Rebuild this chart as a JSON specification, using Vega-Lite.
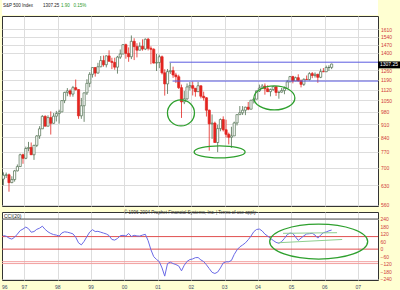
{
  "$schema": "https://vega.github.io/schema/vega-lite/v6.json",
  "background": "#ffffd2",
  "padding": {"left": 0, "top": 0, "right": 0, "bottom": 1},
  "spacing": 0,
  "config": {
    "view": {"fill": "white", "stroke": "#333", "strokeWidth": 1},
    "font": "Liberation Sans",
    "axis": {"gridColor": "#dddddd", "gridWidth": 1, "ticks": false, "domain": false, "labelFontSize": 5, "labelFont": "Liberation Sans", "labelOverlap": false}
  },
  "datasets": {
    "px": [
      {"m":"1996-05","o":654,"h":681,"l":630,"c":669},
      {"m":"1996-06","o":669,"h":680,"l":658,"c":671},
      {"m":"1996-07","o":671,"h":676,"l":606,"c":640},
      {"m":"1996-08","o":640,"h":665,"l":638,"c":652},
      {"m":"1996-09","o":652,"h":691,"l":644,"c":687},
      {"m":"1996-10","o":687,"h":714,"l":685,"c":705},
      {"m":"1996-11","o":705,"h":762,"l":704,"c":757},
      {"m":"1996-12","o":757,"h":762,"l":717,"c":741},
      {"m":"1997-01","o":741,"h":795,"l":737,"c":786},
      {"m":"1997-02","o":786,"h":818,"l":773,"c":791},
      {"m":"1997-03","o":791,"h":815,"l":756,"c":757},
      {"m":"1997-04","o":757,"h":804,"l":734,"c":801},
      {"m":"1997-05","o":801,"h":852,"l":793,"c":848},
      {"m":"1997-06","o":848,"h":899,"l":833,"c":885},
      {"m":"1997-07","o":885,"h":961,"l":885,"c":954},
      {"m":"1997-08","o":954,"h":960,"l":899,"c":899},
      {"m":"1997-09","o":899,"h":960,"l":899,"c":947},
      {"m":"1997-10","o":947,"h":983,"l":855,"c":915},
      {"m":"1997-11","o":915,"h":973,"l":913,"c":955},
      {"m":"1997-12","o":955,"h":986,"l":925,"c":970},
      {"m":"1998-01","o":970,"h":993,"l":913,"c":980},
      {"m":"1998-02","o":980,"h":1051,"l":980,"c":1049},
      {"m":"1998-03","o":1049,"h":1106,"l":1033,"c":1102},
      {"m":"1998-04","o":1102,"h":1131,"l":1077,"c":1112},
      {"m":"1998-05","o":1112,"h":1123,"l":1074,"c":1091},
      {"m":"1998-06","o":1091,"h":1146,"l":1074,"c":1134},
      {"m":"1998-07","o":1134,"h":1191,"l":1114,"c":1121},
      {"m":"1998-08","o":1121,"h":1122,"l":940,"c":957},
      {"m":"1998-09","o":957,"h":1066,"l":940,"c":1017},
      {"m":"1998-10","o":1017,"h":1101,"l":923,"c":1099},
      {"m":"1998-11","o":1099,"h":1193,"l":1085,"c":1164},
      {"m":"1998-12","o":1164,"h":1245,"l":1137,"c":1229},
      {"m":"1999-01","o":1229,"h":1280,"l":1205,"c":1280},
      {"m":"1999-02","o":1280,"h":1284,"l":1212,"c":1238},
      {"m":"1999-03","o":1238,"h":1317,"l":1235,"c":1286},
      {"m":"1999-04","o":1286,"h":1372,"l":1283,"c":1335},
      {"m":"1999-05","o":1335,"h":1376,"l":1287,"c":1302},
      {"m":"1999-06","o":1302,"h":1377,"l":1281,"c":1373},
      {"m":"1999-07","o":1373,"h":1420,"l":1329,"c":1329},
      {"m":"1999-08","o":1329,"h":1358,"l":1268,"c":1320},
      {"m":"1999-09","o":1320,"h":1358,"l":1263,"c":1283},
      {"m":"1999-10","o":1283,"h":1373,"l":1234,"c":1363},
      {"m":"1999-11","o":1363,"h":1427,"l":1348,"c":1389},
      {"m":"1999-12","o":1389,"h":1473,"l":1387,"c":1469},
      {"m":"2000-01","o":1469,"h":1478,"l":1350,"c":1394},
      {"m":"2000-02","o":1394,"h":1445,"l":1325,"c":1366},
      {"m":"2000-03","o":1366,"h":1553,"l":1347,"c":1499},
      {"m":"2000-04","o":1499,"h":1527,"l":1339,"c":1452},
      {"m":"2000-05","o":1452,"h":1482,"l":1361,"c":1421},
      {"m":"2000-06","o":1421,"h":1489,"l":1421,"c":1455},
      {"m":"2000-07","o":1455,"h":1517,"l":1417,"c":1431},
      {"m":"2000-08","o":1431,"h":1525,"l":1422,"c":1518},
      {"m":"2000-09","o":1518,"h":1530,"l":1419,"c":1437},
      {"m":"2000-10","o":1437,"h":1455,"l":1306,"c":1429},
      {"m":"2000-11","o":1429,"h":1438,"l":1312,"c":1315},
      {"m":"2000-12","o":1315,"h":1389,"l":1254,"c":1320},
      {"m":"2001-01","o":1320,"h":1383,"l":1275,"c":1366},
      {"m":"2001-02","o":1366,"h":1376,"l":1228,"c":1240},
      {"m":"2001-03","o":1240,"h":1267,"l":1081,"c":1160},
      {"m":"2001-04","o":1160,"h":1269,"l":1092,"c":1249},
      {"m":"2001-05","o":1249,"h":1316,"l":1232,"c":1256},
      {"m":"2001-06","o":1256,"h":1287,"l":1203,"c":1224},
      {"m":"2001-07","o":1224,"h":1240,"l":1166,"c":1211},
      {"m":"2001-08","o":1211,"h":1226,"l":1125,"c":1134},
      {"m":"2001-09","o":1134,"h":1155,"l":945,"c":1041},
      {"m":"2001-10","o":1041,"h":1111,"l":1027,"c":1060},
      {"m":"2001-11","o":1060,"h":1163,"l":1054,"c":1139},
      {"m":"2001-12","o":1139,"h":1174,"l":1115,"c":1148},
      {"m":"2002-01","o":1148,"h":1177,"l":1082,"c":1130},
      {"m":"2002-02","o":1130,"h":1130,"l":1074,"c":1107},
      {"m":"2002-03","o":1107,"h":1174,"l":1107,"c":1147},
      {"m":"2002-04","o":1147,"h":1148,"l":1063,"c":1077},
      {"m":"2002-05","o":1077,"h":1107,"l":1049,"c":1067},
      {"m":"2002-06","o":1067,"h":1071,"l":953,"c":990},
      {"m":"2002-07","o":990,"h":994,"l":776,"c":912},
      {"m":"2002-08","o":912,"h":965,"l":833,"c":916},
      {"m":"2002-09","o":916,"h":924,"l":815,"c":815},
      {"m":"2002-10","o":815,"h":907,"l":769,"c":886},
      {"m":"2002-11","o":886,"h":942,"l":872,"c":936},
      {"m":"2002-12","o":936,"h":954,"l":871,"c":880},
      {"m":"2003-01","o":880,"h":935,"l":840,"c":856},
      {"m":"2003-02","o":856,"h":865,"l":806,"c":841},
      {"m":"2003-03","o":841,"h":896,"l":789,"c":848},
      {"m":"2003-04","o":848,"h":924,"l":848,"c":917},
      {"m":"2003-05","o":917,"h":965,"l":903,"c":964},
      {"m":"2003-06","o":964,"h":1015,"l":964,"c":975},
      {"m":"2003-07","o":975,"h":1015,"l":962,"c":990},
      {"m":"2003-08","o":990,"h":1011,"l":961,"c":1008},
      {"m":"2003-09","o":1008,"h":1040,"l":990,"c":996},
      {"m":"2003-10","o":996,"h":1054,"l":996,"c":1051},
      {"m":"2003-11","o":1051,"h":1064,"l":1031,"c":1058},
      {"m":"2003-12","o":1058,"h":1113,"l":1058,"c":1112},
      {"m":"2004-01","o":1112,"h":1155,"l":1105,"c":1131},
      {"m":"2004-02","o":1131,"h":1159,"l":1124,"c":1145},
      {"m":"2004-03","o":1145,"h":1163,"l":1087,"c":1126},
      {"m":"2004-04","o":1126,"h":1151,"l":1106,"c":1107},
      {"m":"2004-05","o":1107,"h":1128,"l":1076,"c":1121},
      {"m":"2004-06","o":1121,"h":1146,"l":1113,"c":1141},
      {"m":"2004-07","o":1141,"h":1141,"l":1079,"c":1102},
      {"m":"2004-08","o":1102,"h":1109,"l":1061,"c":1104},
      {"m":"2004-09","o":1104,"h":1132,"l":1101,"c":1115},
      {"m":"2004-10","o":1115,"h":1142,"l":1090,"c":1130},
      {"m":"2004-11","o":1130,"h":1188,"l":1128,"c":1174},
      {"m":"2004-12","o":1174,"h":1217,"l":1174,"c":1212},
      {"m":"2005-01","o":1212,"h":1218,"l":1164,"c":1181},
      {"m":"2005-02","o":1181,"h":1212,"l":1181,"c":1204},
      {"m":"2005-03","o":1204,"h":1229,"l":1177,"c":1181},
      {"m":"2005-04","o":1181,"h":1192,"l":1136,"c":1157},
      {"m":"2005-05","o":1157,"h":1200,"l":1146,"c":1192},
      {"m":"2005-06","o":1192,"h":1220,"l":1188,"c":1191},
      {"m":"2005-07","o":1191,"h":1245,"l":1184,"c":1234},
      {"m":"2005-08","o":1234,"h":1246,"l":1201,"c":1220},
      {"m":"2005-09","o":1220,"h":1243,"l":1205,"c":1229},
      {"m":"2005-10","o":1229,"h":1233,"l":1168,"c":1207},
      {"m":"2005-11","o":1207,"h":1271,"l":1201,"c":1249},
      {"m":"2005-12","o":1249,"h":1276,"l":1247,"c":1248},
      {"m":"2006-01","o":1248,"h":1295,"l":1246,"c":1280},
      {"m":"2006-02","o":1280,"h":1298,"l":1254,"c":1281},
      {"m":"2006-03","o":1281,"h":1310,"l":1268,"c":1307.25}
    ],
    "cci": [
      {"m":"1996-05","v":108},{"m":"1996-06","v":103},{"m":"1996-07","v":88},{"m":"1996-08","v":80},
      {"m":"1996-09","v":95},{"m":"1996-10","v":120},{"m":"1996-11","v":148},{"m":"1996-12","v":160},
      {"m":"1997-01","v":176},{"m":"1997-02","v":163},{"m":"1997-03","v":135},{"m":"1997-04","v":140},
      {"m":"1997-05","v":158},{"m":"1997-06","v":167},{"m":"1997-07","v":183},{"m":"1997-08","v":157},
      {"m":"1997-09","v":138},{"m":"1997-10","v":125},{"m":"1997-11","v":116},{"m":"1997-12","v":112},
      {"m":"1998-01","v":104},{"m":"1998-02","v":129},{"m":"1998-03","v":138},{"m":"1998-04","v":135},
      {"m":"1998-05","v":129},{"m":"1998-06","v":122},{"m":"1998-07","v":95},{"m":"1998-08","v":50},
      {"m":"1998-09","v":34},{"m":"1998-10","v":62},{"m":"1998-11","v":100},{"m":"1998-12","v":136},
      {"m":"1999-01","v":155},{"m":"1999-02","v":140},{"m":"1999-03","v":142},{"m":"1999-04","v":135},
      {"m":"1999-05","v":128},{"m":"1999-06","v":121},{"m":"1999-07","v":108},{"m":"1999-08","v":77},
      {"m":"1999-09","v":72},{"m":"1999-10","v":85},{"m":"1999-11","v":107},{"m":"1999-12","v":110},
      {"m":"2000-01","v":105},{"m":"2000-02","v":125},{"m":"2000-03","v":101},{"m":"2000-04","v":110},
      {"m":"2000-05","v":105},{"m":"2000-06","v":104},{"m":"2000-07","v":112},{"m":"2000-08","v":118},
      {"m":"2000-09","v":67},{"m":"2000-10","v":-5},{"m":"2000-11","v":-60},{"m":"2000-12","v":-82},
      {"m":"2001-01","v":-100},{"m":"2001-02","v":-150},{"m":"2001-03","v":-215},{"m":"2001-04","v":-115},
      {"m":"2001-05","v":-104},{"m":"2001-06","v":-115},{"m":"2001-07","v":-123},{"m":"2001-08","v":-134},
      {"m":"2001-09","v":-173},{"m":"2001-10","v":-128},{"m":"2001-11","v":-98},{"m":"2001-12","v":-83},
      {"m":"2002-01","v":-78},{"m":"2002-02","v":-68},{"m":"2002-03","v":-67},{"m":"2002-04","v":-86},
      {"m":"2002-05","v":-99},{"m":"2002-06","v":-125},{"m":"2002-07","v":-155},{"m":"2002-08","v":-185},
      {"m":"2002-09","v":-194},{"m":"2002-10","v":-183},{"m":"2002-11","v":-150},{"m":"2002-12","v":-110},
      {"m":"2003-01","v":-101},{"m":"2003-02","v":-101},{"m":"2003-03","v":-90},{"m":"2003-04","v":-42},
      {"m":"2003-05","v":-6},{"m":"2003-06","v":18},{"m":"2003-07","v":33},{"m":"2003-08","v":50},
      {"m":"2003-09","v":75},{"m":"2003-10","v":104},{"m":"2003-11","v":139},{"m":"2003-12","v":157},
      {"m":"2004-01","v":160},{"m":"2004-02","v":145},{"m":"2004-03","v":120},{"m":"2004-04","v":104},
      {"m":"2004-05","v":86},{"m":"2004-06","v":69},{"m":"2004-07","v":54},{"m":"2004-08","v":47},
      {"m":"2004-09","v":60},{"m":"2004-10","v":86},{"m":"2004-11","v":116},{"m":"2004-12","v":128},
      {"m":"2005-01","v":124},{"m":"2005-02","v":97},{"m":"2005-03","v":70},{"m":"2005-04","v":88},
      {"m":"2005-05","v":106},{"m":"2005-06","v":121},{"m":"2005-07","v":123},{"m":"2005-08","v":126},
      {"m":"2005-09","v":112},{"m":"2005-10","v":88},{"m":"2005-11","v":112},{"m":"2005-12","v":131},
      {"m":"2006-01","v":137},{"m":"2006-02","v":146},{"m":"2006-03","v":152}
    ]
  },
  "vconcat": [
    {
      "spacing": 0,
      "hconcat": [
        {
          "width": 58,
          "height": 15,
          "view": {"fill": "white", "stroke": null},
          "title": {
            "text": "S&P 500 Index\u00a0\u00a0\u00a0\u00a0\u00a0\u00a0\u00a0\u00a01307.25",
            "anchor": "start",
            "frame": "group",
            "offset": -7,
            "dx": 1,
            "font": "Liberation Sans",
            "fontSize": 4.5,
            "fontWeight": "normal",
            "color": "#222222"
          },
          "data": {"values": []},
          "mark": "point"
        },
        {
          "width": 318,
          "height": 15,
          "view": {"fill": "white", "stroke": null},
          "title": {
            "text": "1.90\u00a0\u00a0\u00a00.15%",
            "anchor": "start",
            "frame": "group",
            "offset": -7,
            "dx": 1,
            "font": "Liberation Sans",
            "fontSize": 4.5,
            "fontWeight": "normal",
            "color": "#2a9a2a"
          },
          "data": {"values": []},
          "mark": "point"
        }
      ]
    },
    {
      "width": 376,
      "height": 190,
      "layer": [
        {
          "data": {"name": "px"},
          "mark": {"type": "rule", "strokeWidth": 0.8},
          "encoding": {
            "x": {"field": "m", "type": "temporal", "timeUnit": "utcyearmonth", "bandPosition": 0.5, "title": null,
                  "scale": {"type": "utc", "domain": [{"year": 1996, "month": 5, "date": 1, "utc": true}, {"year": 2007, "month": 8, "date": 6, "utc": true}]},
                  "axis": {"labels": false, "grid": true, "tickCount": {"interval": "year", "step": 1}, "title": null}},
            "y": {"field": "l", "type": "quantitative", "title": null,
                  "scale": {"type": "log", "domain": [556, 1746], "nice": false},
                  "axis": {"orient": "right", "values": [560,630,700,770,840,910,980,1050,1120,1190,1260,1400,1470,1540,1610], "format": "d", "labelColor": "#d03a3a", "labelPadding": 2.5, "labelOverlap": false, "grid": true, "title": null}},
            "y2": {"field": "h"},
            "color": {"condition": {"test": "datum.c >= datum.o", "value": "#4f6f4f"}, "value": "#e3241f"}
          }
        },
        {
          "data": {"name": "px"},
          "mark": {"type": "bar", "width": 2.2, "strokeWidth": 0.7},
          "encoding": {
            "x": {"field": "m", "type": "temporal", "timeUnit": "utcyearmonth", "bandPosition": 0.5},
            "y": {"field": "o", "type": "quantitative"},
            "y2": {"field": "c"},
            "fill": {"condition": {"test": "datum.c >= datum.o", "value": "#ffffff"}, "value": "#e3241f"},
            "stroke": {"condition": {"test": "datum.c >= datum.o", "value": "#4f6f4f"}, "value": "#e3241f"}
          }
        },
        {
          "data": {"values": [
            {"id": "a", "d": "2001-05-08", "p": 1322},
            {"id": "a", "d": "2007-08-06", "p": 1322},
            {"id": "b", "d": "2001-06-10", "p": 1180},
            {"id": "b", "d": "2007-08-06", "p": 1180}
          ]},
          "mark": {"type": "line", "color": "#5a5ae0", "strokeWidth": 1},
          "encoding": {
            "x": {"field": "d", "type": "temporal"},
            "y": {"field": "p", "type": "quantitative"},
            "detail": {"field": "id"}
          }
        },
        {
          "data": {"values": [{"d": "2001-09-10", "p": 974}]},
          "mark": {"type": "point", "shape": "M-1,0A1,0.963,0,1,1,1,0A1,0.963,0,1,1,-1,0Z", "size": 729, "filled": false, "stroke": "#2ea02e", "strokeWidth": 1.3, "opacity": 1},
          "encoding": {"x": {"field": "d", "type": "temporal"}, "y": {"field": "p", "type": "quantitative"}}
        },
        {
          "data": {"values": [{"d": "2002-11-07", "p": 770}]},
          "mark": {"type": "point", "shape": "M-1,0A1,0.235,0,1,1,1,0A1,0.235,0,1,1,-1,0Z", "size": 2601, "filled": false, "stroke": "#2ea02e", "strokeWidth": 1.3, "opacity": 1},
          "encoding": {"x": {"field": "d", "type": "temporal"}, "y": {"field": "p", "type": "quantitative"}}
        },
        {
          "data": {"values": [{"d": "2004-06-28", "p": 1066}]},
          "mark": {"type": "point", "shape": "M-1,0A1,0.585,0,1,1,1,0A1,0.585,0,1,1,-1,0Z", "size": 1681, "filled": false, "stroke": "#2ea02e", "strokeWidth": 1.3, "opacity": 1},
          "encoding": {"x": {"field": "d", "type": "temporal"}, "y": {"field": "p", "type": "quantitative"}}
        },
        {
          "data": {"values": [{"last": 1307.25}]},
          "mark": {"type": "rect", "color": "#000000"},
          "encoding": {
            "x": {"datum": {"year": 2007, "month": 8, "date": 6, "utc": true}},
            "x2": {"datum": {"year": 2008, "month": 4, "date": 30, "utc": true}},
            "y": {"datum": 1274},
            "y2": {"datum": 1328}
          }
        },
        {
          "data": {"values": [{"last": 1307.25}]},
          "mark": {"type": "text", "color": "#ffffff", "align": "left", "baseline": "middle", "dx": 2, "fontSize": 5},
          "encoding": {
            "x": {"datum": {"year": 2007, "month": 8, "date": 6, "utc": true}},
            "y": {"field": "last", "type": "quantitative"},
            "text": {"field": "last", "type": "quantitative", "format": ".2f"}
          }
        }
      ]
    },
    {
      "width": 376,
      "height": 68,
      "title": {"text": "\u00a9 1996-2004 Prophet Financial Systems, Inc.  |  Terms of use apply", "anchor": "middle", "frame": "group", "offset": -2.5, "fontSize": 4.5, "fontWeight": "normal", "color": "#333333", "font": "Liberation Sans"},
      "layer": [
        {
          "data": {"values": [{"v": 100}, {"v": 0}]},
          "mark": {"type": "rule", "color": "#e05050", "strokeWidth": 1},
          "encoding": {
            "y": {"field": "v", "type": "quantitative", "title": null,
                  "scale": {"domain": [-246, 296], "nice": false, "zero": false},
                  "axis": {"orient": "right", "values": [-240,-180,-120,-60,0,60,120,180,240], "labels": false, "grid": true, "title": null}}
          }
        },
        {
          "data": {"values": [{"v": -100}, {"v": -115}]},
          "mark": {"type": "rule", "color": "#f2a0a0", "strokeWidth": 1},
          "encoding": {"y": {"field": "v", "type": "quantitative"}}
        },
        {
          "data": {"values": [{"v": 240}]},
          "mark": {"type": "rule", "color": "#555555", "strokeWidth": 1},
          "encoding": {"y": {"field": "v", "type": "quantitative"}}
        },
        {
          "data": {"name": "cci"},
          "mark": {"type": "line", "color": "#6a6ae6", "strokeWidth": 1},
          "encoding": {
            "x": {"field": "m", "type": "temporal", "timeUnit": "utcyearmonth", "bandPosition": 0.5, "title": null,
                  "scale": {"type": "utc", "domain": [{"year": 1996, "month": 5, "date": 1, "utc": true}, {"year": 2007, "month": 8, "date": 6, "utc": true}]},
                  "axis": {"labels": false, "grid": true, "tickCount": {"interval": "year", "step": 1}, "title": null}},
            "y": {"field": "v", "type": "quantitative"}
          }
        },
        {
          "data": {"values": [
            {"id": "u", "d": "2004-10-01", "v": 126},
            {"id": "u", "d": "2006-05-15", "v": 131},
            {"id": "l", "d": "2004-08-10", "v": 51},
            {"id": "l", "d": "2006-07-10", "v": 77}
          ]},
          "mark": {"type": "line", "color": "#8fcf8f", "strokeWidth": 1},
          "encoding": {
            "x": {"field": "d", "type": "temporal"},
            "y": {"field": "v", "type": "quantitative"},
            "detail": {"field": "id"}
          }
        },
        {
          "data": {"values": [{"d": "2005-10-26", "v": 60}]},
          "mark": {"type": "point", "shape": "M-1,0A1,0.357,0,1,1,1,0A1,0.357,0,1,1,-1,0Z", "size": 9604, "filled": false, "stroke": "#2ea02e", "strokeWidth": 1.3, "opacity": 1},
          "encoding": {"x": {"field": "d", "type": "temporal"}, "y": {"field": "v", "type": "quantitative"}}
        },
        {
          "data": {"values": [{"v": -240}, {"v": -180}, {"v": -120}, {"v": -60}, {"v": 0}, {"v": 60}, {"v": 120}, {"v": 180}, {"v": 240}]},
          "mark": {"type": "text", "align": "left", "baseline": "middle", "dx": 2.5, "fontSize": 5, "color": "#d03a3a"},
          "encoding": {
            "x": {"datum": {"year": 2007, "month": 8, "date": 6, "utc": true}},
            "y": {"field": "v", "type": "quantitative"},
            "text": {"field": "v", "type": "quantitative", "format": "d"}
          }
        },
        {
          "data": {"values": [
            {"d": "1996-06-01", "t": "96"}, {"d": "1997-01-01", "t": "97"}, {"d": "1998-01-01", "t": "98"},
            {"d": "1999-01-01", "t": "99"}, {"d": "2000-01-01", "t": "00"}, {"d": "2001-01-01", "t": "01"},
            {"d": "2002-01-01", "t": "02"}, {"d": "2003-01-01", "t": "03"}, {"d": "2004-01-01", "t": "04"},
            {"d": "2005-01-01", "t": "05"}, {"d": "2006-01-01", "t": "06"}, {"d": "2007-01-01", "t": "07"}
          ]},
          "mark": {"type": "text", "align": "center", "baseline": "middle", "dy": 6.5, "fontSize": 5, "color": "#3a4a6a"},
          "encoding": {
            "x": {"field": "d", "type": "temporal"},
            "y": {"datum": -246},
            "text": {"field": "t"}
          }
        },
        {
          "data": {"values": [{"label": "CCI(20)"}]},
          "mark": {"type": "text", "align": "left", "baseline": "middle", "dx": 2, "fontSize": 5, "color": "#222222"},
          "encoding": {
            "x": {"datum": {"year": 1996, "month": 5, "date": 1, "utc": true}},
            "y": {"datum": 266},
            "text": {"field": "label"}
          }
        }
      ]
    }
  ]
}
